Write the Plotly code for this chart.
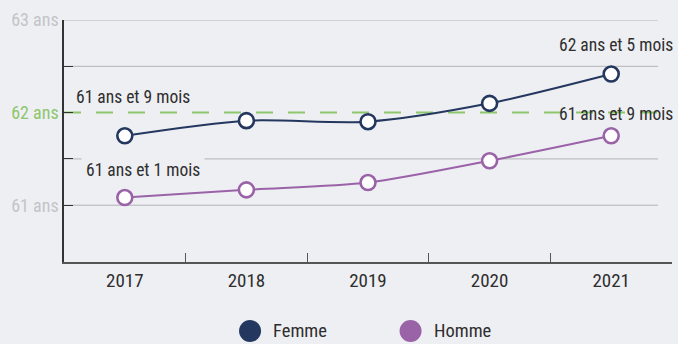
import plotly.graph_objects as go

# Âge conjoncturel de départ à la retraite, en années
years = ["2017", "2018", "2019", "2020", "2021"]
femme = [61 + 9 / 12, 61.913, 61.902, 62.10, 62 + 5 / 12]
homme = [61 + 1 / 12, 61.166, 61.245, 61.48, 61 + 9 / 12]

series_names = ["Femme", "Homme"]
series_colors = ["#24375f", "#9a63a7"]

y_tickvals = [61, 61.5, 62, 62.5, 63]
y_ticktext = ["61 ans", "", "62 ans", "", "63 ans"]
reference_age = 62

# labelled points: (series index, year index, text, xshift, yshift)
point_labels = [
    (0, 0, "61 ans et 9 mois", 8, 39),
    (1, 0, "61 ans et 1 mois", 18, 28),
    (0, 4, "62 ans et 5 mois", 5, 29),
    (1, 4, "61 ans et 9 mois", 5, 22),
]

BG = "#eeeff3"
FONT = "Liberation Sans Narrow, Roboto Condensed, Roboto, sans-serif"
TEXT = "#2e2e2e"
GREY_LABEL = "#c3c4c8"
GREEN = "#8dc66c"
GRID = "#b3b3b6"

fig = go.Figure()
for name, vals, col in zip(series_names, [femme, homme], series_colors):
    fig.add_trace(go.Scatter(
        x=years, y=vals, name=name, mode="lines+markers",
        line=dict(color=col, width=2, shape="spline", smoothing=0.8),
        marker=dict(size=15, color="white", line=dict(color=col, width=2.6)),
        showlegend=False, cliponaxis=False,
    ))

# horizontal guide lines
shapes = []
for v in y_tickvals:
    if v == reference_age:
        continue
    shapes.append(dict(type="line", xref="paper", yref="y", x0=0, x1=0.977,
                       y0=v, y1=v, line=dict(color=GRID, width=1), layer="below"))
shapes.append(dict(type="line", xref="paper", yref="y", x0=0, x1=0.977,
                   y0=reference_age, y1=reference_age,
                   line=dict(color=GREEN, width=2, dash="17px,15px"), layer="below"))

# legend drawn as circles + labels below the axis
legend_pos = [(0.306, 0.341), (0.570, 0.605)]
for (cx, tx), name, col in zip(legend_pos, series_names, series_colors):
    shapes.append(dict(type="circle", xref="paper", yref="paper",
                       xsizemode="pixel", ysizemode="pixel",
                       xanchor=cx, yanchor=-0.285, x0=-11, x1=11, y0=-11, y1=11,
                       fillcolor=col, line=dict(width=0)))

annotations = []
for (cx, tx), name in zip(legend_pos, series_names):
    annotations.append(dict(xref="paper", yref="paper", x=tx, y=-0.285,
                            text=name, showarrow=False, xanchor="left",
                            yanchor="middle", font=dict(size=18.5, color=TEXT, family=FONT)))

series_vals = [femme, homme]
for si, yi, txt, dx, dy in point_labels:
    ann = dict(x=yi, y=series_vals[si][yi], text=txt, showarrow=False,
               xshift=dx, yshift=dy, font=dict(size=17.5, color=TEXT, family=FONT))
    if si == 1 and yi == 0:
        ann.update(bgcolor=BG, borderpad=4)
    annotations.append(ann)

tick_text_styled = []
for v, t in zip(y_tickvals, y_ticktext):
    c = GREEN if v == reference_age else GREY_LABEL
    tick_text_styled.append(f"<span style='color:{c}'>{t}</span>" if t else "")

fig.update_layout(
    width=678, height=344,
    margin=dict(l=64, r=6, t=20, b=82),
    paper_bgcolor=BG, plot_bgcolor=BG,
    font=dict(family=FONT, color=TEXT),
    shapes=shapes, annotations=annotations,
    showlegend=False,
)
fig.update_xaxes(
    type="category", range=[-0.5, 4.5], tickson="boundaries",
    ticks="inside", ticklen=9, tickcolor="#555", tickwidth=1.2,
    showline=True, linecolor="#555", linewidth=2, showgrid=False,
    automargin=False, tickfont=dict(size=19, color=TEXT, family=FONT),
)
fig.update_yaxes(
    range=[60.387, 63.0], tickvals=y_tickvals, ticktext=tick_text_styled,
    ticks="inside", ticklen=9, tickcolor="#333", tickwidth=1.2,
    showline=True, linecolor="#333", linewidth=1.5, showgrid=False,
    zeroline=False, automargin=False,
    tickfont=dict(size=18, color=GREY_LABEL, family=FONT),
)

fig.write_html("out.html")
